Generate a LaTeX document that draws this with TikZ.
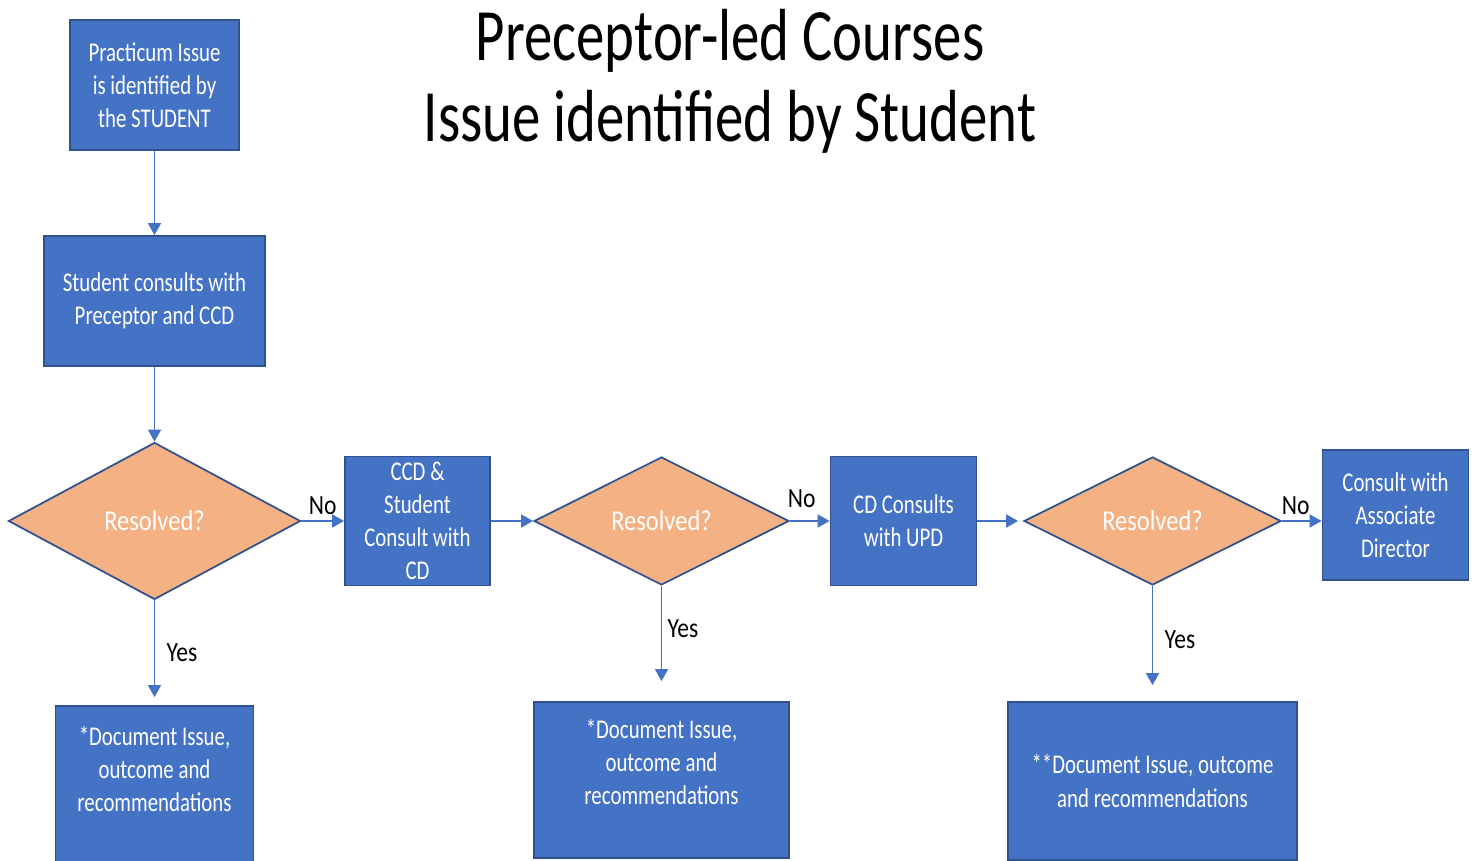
\documentclass[tikz,border=0pt]{standalone}
\usepackage{fontspec}
\setmainfont{Carlito}[FakeStretch=0.77]
\newfontfamily\widefont{Carlito}[FakeStretch=0.85]
\usetikzlibrary{shapes.geometric,arrows.meta}
\definecolor{boxblue}{HTML}{4472C4}
\definecolor{boxedge}{HTML}{2F528F}
\definecolor{decorange}{HTML}{F4B183}
\tikzset{
  stepbox/.style={draw=boxedge,line width=0.5pt,fill=boxblue,text=white,align=center,
    font=\fontsize{7.7}{9.4}\selectfont,inner sep=1pt},
  decision/.style={diamond,draw=boxedge,line width=0.5pt,fill=decorange,text=white,
    font=\widefont\fontsize{8.2}{9.4}\selectfont,inner sep=0pt},
  flow/.style={draw=boxblue,line width=0.5pt,-{Triangle[length=1.2mm,width=1.3mm]}},
  answer/.style={font=\widefont\fontsize{7.9}{9.4}\selectfont,text=black,inner sep=1.5pt}
}
\begin{document}
\begin{tikzpicture}
			\useasboundingbox (0,0) rectangle (14.75,-8.61);
			\node (title) at (7.3,-0.81) [align=center,font=\fontsize{21}{23}\selectfont] {Preceptor-led Courses\\Issue identified by Student};
			\node (issue) at (1.545,-0.85) [stepbox,minimum width=1.69cm,minimum height=1.3cm] {Practicum Issue\\is identified by\\the STUDENT};
			\node (consult) [below of=issue,node distance=2.16cm,stepbox,minimum width=2.21cm,minimum height=1.3cm] {Student consults with\\Preceptor and CCD};
			\node (resolvedA) [below of=consult,node distance=2.2cm,decision,minimum width=2.92cm,minimum height=1.57cm] {Resolved?};
			\node (ccd) [right of=resolvedA,node distance=2.63cm,stepbox,minimum width=1.45cm,minimum height=1.29cm] {CCD \&\\Student\\Consult with\\CD};
			\node (resolvedB) [right of=ccd,node distance=2.44cm,decision,minimum width=2.55cm,minimum height=1.28cm] {Resolved?};
			\node (upd) [right of=resolvedB,node distance=2.42cm,stepbox,minimum width=1.46cm,minimum height=1.29cm] {CD Consults\\with UPD};
			\node (resolvedC) [right of=upd,node distance=2.49cm,decision,minimum width=2.57cm,minimum height=1.28cm] {Resolved?};
			\node (assoc) [right of=resolvedC,node distance=2.43cm,yshift=0.06cm,stepbox,minimum width=1.46cm,minimum height=1.3cm] {Consult with\\Associate\\Director};
			\node (docA) [below of=resolvedA,node distance=2.65cm,stepbox,text depth=3.4mm,minimum width=1.98cm,minimum height=1.6cm] {*Document Issue,\\outcome and\\recommendations};
			\node (docB) [below of=resolvedB,node distance=2.59cm,stepbox,text depth=3.6mm,minimum width=2.55cm,minimum height=1.56cm] {*Document Issue,\\outcome and\\recommendations};
			\node (docC) [below of=resolvedC,node distance=2.6cm,stepbox,minimum width=2.89cm,minimum height=1.58cm] {**Document Issue, outcome\\and recommendations};
			\draw [flow] (issue) -- (consult);
			\draw [flow] (consult) -- (resolvedA);
			\draw [flow] (resolvedA) -- node[answer,above] {No} (ccd);
			\draw [flow] (ccd) -- (resolvedB);
			\draw [flow] (resolvedB) -- node[answer,above=2pt,xshift=-0.8mm] {No} (upd);
			\draw [flow,shorten >=0.5mm] (upd) -- (resolvedC);
			\draw [flow] (resolvedC) -- node[answer,above,xshift=-0.6mm] {No} (assoc.west |- resolvedC);
			\draw [flow,shorten >=0.8mm] (resolvedA) -- node[answer,right,xshift=0.6mm] {Yes} (docA);
			\draw [flow,shorten >=2mm] (resolvedB) -- node[answer,right,pos=0.37] {Yes} (docB);
			\draw [flow,shorten >=1.6mm] (resolvedC) -- node[answer,right,pos=0.47,xshift=0.6mm] {Yes} (docC);
		\end{tikzpicture}
\end{document}
